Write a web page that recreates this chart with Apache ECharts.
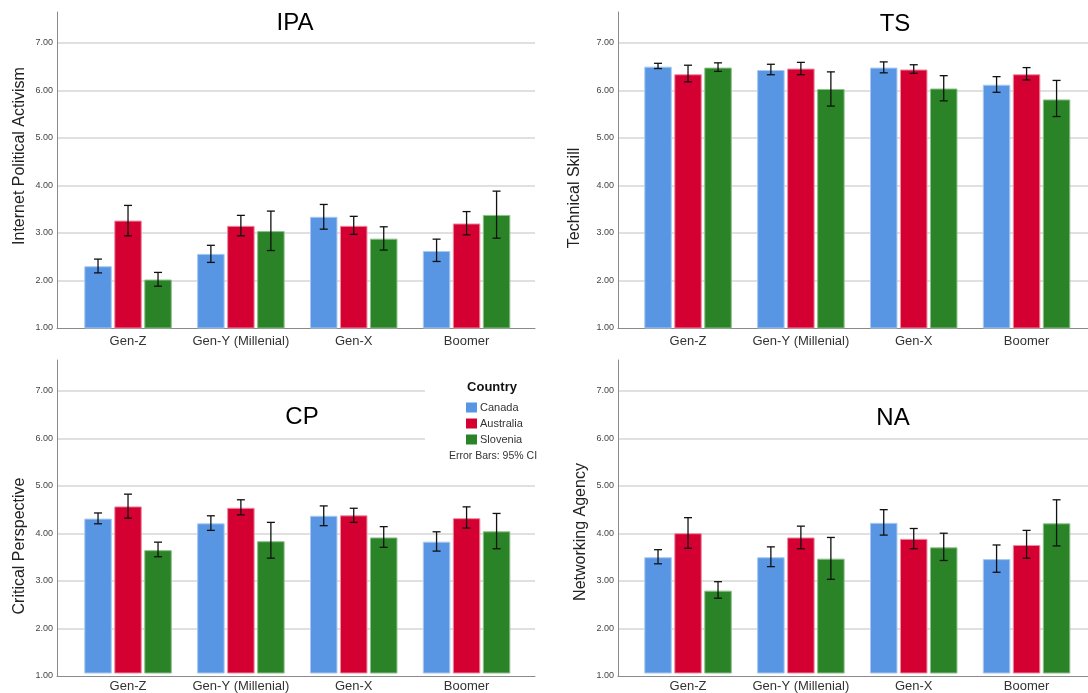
<!DOCTYPE html>
<html>
<head>
<meta charset="utf-8">
<script src="https://cdn.jsdelivr.net/npm/echarts@6/dist/echarts.min.js"></script>
<style>
html,body{margin:0;padding:0;background:#fff;}
#chart{width:1088px;height:693px;}
</style>
</head>
<body>
<div id="chart"></div>
<script>
// ---------- data ----------
const categories = ['Gen-Z', 'Gen-Y (Millenial)', 'Gen-X', 'Boomer'];
const countries = ['Canada', 'Australia', 'Slovenia'];
const panelTitles = ['IPA', 'TS', 'CP', 'NA'];
const axisNames = ['Internet Political Activism', 'Technical Skill', 'Critical Perspective', 'Networking Agency'];
const yMin = 1;
const yMax = 7.65;
const yStep = 1;

// IPA
const ipaCanada = [2.30, 2.56, 3.34, 2.62];
const ipaCanadaCI = [[2.16, 2.45], [2.38, 2.74], [3.08, 3.60], [2.40, 2.87]];
const ipaAustralia = [3.26, 3.15, 3.15, 3.20];
const ipaAustraliaCI = [[2.94, 3.58], [2.94, 3.37], [2.97, 3.35], [2.96, 3.45]];
const ipaSlovenia = [2.02, 3.04, 2.88, 3.38];
const ipaSloveniaCI = [[1.88, 2.17], [2.63, 3.46], [2.64, 3.13], [2.89, 3.88]];

// TS
const tsCanada = [6.50, 6.43, 6.48, 6.12];
const tsCanadaCI = [[6.46, 6.57], [6.33, 6.55], [6.37, 6.60], [5.96, 6.29]];
const tsAustralia = [6.34, 6.46, 6.44, 6.34];
const tsAustraliaCI = [[6.18, 6.53], [6.33, 6.59], [6.36, 6.54], [6.22, 6.48]];
const tsSlovenia = [6.48, 6.03, 6.04, 5.81];
const tsSloveniaCI = [[6.40, 6.58], [5.67, 6.39], [5.78, 6.31], [5.45, 6.21]];

// CP
const cpCanada = [4.28, 4.18, 4.34, 3.79];
const cpCanadaCI = [[4.17, 4.40], [4.03, 4.34], [4.13, 4.55], [3.59, 4.00]];
const cpAustralia = [4.54, 4.51, 4.35, 4.29];
const cpAustraliaCI = [[4.29, 4.80], [4.36, 4.68], [4.20, 4.50], [4.08, 4.53]];
const cpSlovenia = [3.61, 3.80, 3.88, 4.01];
const cpSloveniaCI = [[3.47, 3.78], [3.44, 4.20], [3.67, 4.11], [3.64, 4.39]];

// NA
const naCanada = [3.46, 3.46, 4.19, 3.42];
const naCanadaCI = [[3.32, 3.62], [3.26, 3.68], [3.93, 4.47], [3.14, 3.72]];
const naAustralia = [3.97, 3.88, 3.85, 3.72];
const naAustraliaCI = [[3.65, 4.30], [3.64, 4.12], [3.64, 4.07], [3.44, 4.03]];
const naSlovenia = [2.75, 3.43, 3.67, 4.18];
const naSloveniaCI = [[2.59, 2.94], [2.99, 3.88], [3.39, 3.97], [3.70, 4.68]];

const legendNote = 'Error Bars: 95% CI';
const legendTitle = 'Country';

// ---------- layout / style ----------
const colors = ['#5896E3', '#D50032', '#2A8427'];
const borders = ['#A9C9F0', '#EE8CA2', '#8CC08A'];
const BW = 27.5, GAP = 2.5;

const panels = [
  { means: [ipaCanada, ipaAustralia, ipaSlovenia], cis: [ipaCanadaCI, ipaAustraliaCI, ipaSloveniaCI],
    axisL: 57, axisW: 478, bandL: 71.6, bandW: 451.4, top: 12, titleX: 295, titleY: 11, nameGap: 29, namePad: [0, 0, 0, 28] },
  { means: [tsCanada, tsAustralia, tsSlovenia], cis: [tsCanadaCI, tsAustraliaCI, tsSloveniaCI],
    axisL: 618, axisW: 470, bandL: 631.6, bandW: 451.4, top: 12, titleX: 895, titleY: 12, nameGap: 35, namePad: [0, 56, 0, 0] },
  { means: [cpCanada, cpAustralia, cpSlovenia], cis: [cpCanadaCI, cpAustraliaCI, cpSloveniaCI],
    axisL: 57, axisW: 478, bandL: 71.6, bandW: 451.4, top: 360, titleX: 302, titleY: 405, nameGap: 29, namePad: [0, 56, 0, 0] },
  { means: [naCanada, naAustralia, naSlovenia], cis: [naCanadaCI, naAustraliaCI, naSloveniaCI],
    axisL: 618, axisW: 470, bandL: 631.6, bandW: 451.4, top: 360, titleX: 893, titleY: 406, nameGap: 29, namePad: [0, 28, 0, 0] }
];
const H = 316;

const grid = [], xAxis = [], yAxis = [], series = [], title = [];

panels.forEach((p, i) => {
  const gA = grid.length;
  grid.push({ left: p.axisL, top: p.top, width: p.axisW, height: H });
  grid.push({ left: p.bandL, top: p.top, width: p.bandW, height: H });
  // axis-frame grid
  xAxis.push({ type: 'category', gridIndex: gA, data: categories,
    axisLine: { show: true, lineStyle: { color: '#8a8a8a', width: 1 } },
    axisTick: { show: false }, axisLabel: { show: false }, splitLine: { show: false } });
  yAxis.push({ type: 'value', gridIndex: gA, min: yMin, max: yMax, interval: yStep,
    name: axisNames[i], nameLocation: 'middle', nameGap: p.nameGap, nameMoveOverlap: false,
    nameTextStyle: { fontFamily: 'Liberation Sans', fontSize: 16, color: '#222', padding: p.namePad },
    axisLine: { show: true, lineStyle: { color: '#8a8a8a', width: 1 } },
    axisTick: { show: false },
    axisLabel: { fontFamily: 'Liberation Sans', fontSize: 9, color: '#444', margin: 4, showMaxLabel: false,
      formatter: v => (Math.abs(v - Math.round(v)) < 1e-6 ? v.toFixed(2) : '') },
    splitLine: { show: true, showMaxLine: false, showMinLine: false, lineStyle: { color: '#d6d6d6', width: 1.5 } } });
  // bar grid
  xAxis.push({ type: 'category', gridIndex: gA + 1, data: categories,
    axisLine: { show: false }, axisTick: { show: false },
    axisLabel: { interval: 0, fontFamily: 'Liberation Sans', fontSize: 13, color: '#333', margin: 7 } });
  yAxis.push({ type: 'value', gridIndex: gA + 1, min: yMin, max: yMax, interval: yStep, show: false,
    splitLine: { show: false } });

  countries.forEach((c, k) => {
    series.push({ type: 'bar', name: c, xAxisIndex: gA + 1, yAxisIndex: gA + 1,
      data: p.means[k], barWidth: BW, barGap: (GAP / BW * 100) + '%',
      itemStyle: { color: colors[k], borderColor: borders[k], borderWidth: 1 },
      emphasis: { disabled: true }, z: 2 });
  });
  countries.forEach((c, k) => {
    const off = (k - 1) * (BW + GAP);
    series.push({ type: 'custom', name: c + ' CI', xAxisIndex: gA + 1, yAxisIndex: gA + 1, z: 5,
      data: p.cis[k].map((ci, j) => [j, ci[0], ci[1]]),
      encode: { x: 0, y: [1, 2] },
      renderItem: (params, api) => {
        const lo = api.coord([api.value(0), api.value(1)]);
        const hi = api.coord([api.value(0), api.value(2)]);
        const x = lo[0] + off;
        const st = { stroke: '#111', lineWidth: 1.3 };
        return { type: 'group', children: [
          { type: 'line', shape: { x1: x, y1: hi[1], x2: x, y2: lo[1] }, style: st },
          { type: 'line', shape: { x1: x - 4, y1: hi[1], x2: x + 4, y2: hi[1] }, style: st },
          { type: 'line', shape: { x1: x - 4, y1: lo[1], x2: x + 4, y2: lo[1] }, style: st }
        ] };
      } });
  });

  title.push({ text: panelTitles[i], left: p.titleX, top: p.titleY, textAlign: 'center', padding: 0,
    textStyle: { fontFamily: 'Liberation Sans', fontSize: 24, fontWeight: 'normal', color: '#000' } });
});

title.push({ text: legendTitle, left: 492, top: 381, textAlign: 'center', padding: 0,
  textStyle: { fontFamily: 'Liberation Sans', fontSize: 13, fontWeight: 'bold', color: '#111' } });
title.push({ text: legendNote, left: 493, top: 451, textAlign: 'center', padding: 0,
  textStyle: { fontFamily: 'Liberation Sans', fontSize: 10.5, fontWeight: 'normal', color: '#333' } });

const option = {
  animation: false,
  backgroundColor: '#fff',
  grid, xAxis, yAxis, series, title,
  legend: {
    data: countries, orient: 'vertical', left: 425, top: 380,
    padding: [22, 20, 28, 41], backgroundColor: '#fff',
    icon: 'rect', itemWidth: 11, itemHeight: 10, itemGap: 5,
    itemStyle: { borderWidth: 0 },
    textStyle: { fontFamily: 'Liberation Sans', fontSize: 11, color: '#333', padding: [0, 0, 0, -2] },
    selectedMode: false
  }
};

const chart = echarts.init(document.getElementById('chart'), null, { renderer: 'canvas' });
chart.setOption(option);
</script>
</body>
</html>
